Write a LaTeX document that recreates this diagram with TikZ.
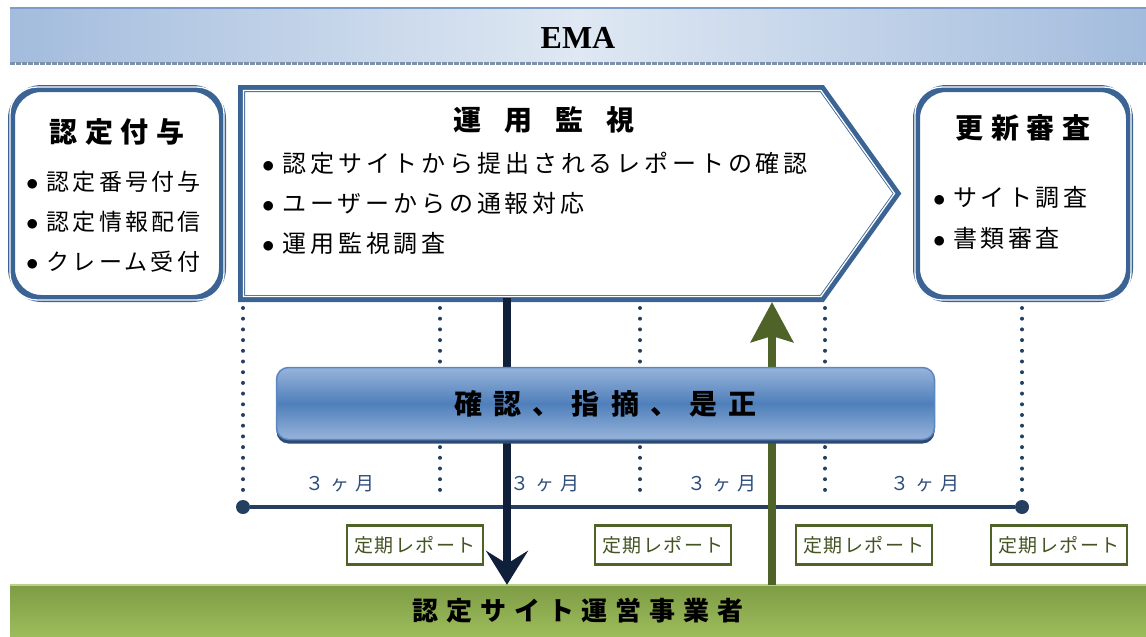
\documentclass[tikz,border=0pt]{standalone}
\usepackage{fontspec}
\setmainfont{Liberation Serif}
\newfontfamily\jp{Noto Sans CJK JP}
\usetikzlibrary{arrows.meta,positioning,shadows}

\definecolor{frameblue}{HTML}{3B6494}
\definecolor{navy}{HTML}{243F60}
\definecolor{arrownavy}{HTML}{10203A}
\definecolor{olive}{HTML}{4F6228}
\definecolor{emaside}{HTML}{A3BCDD}
\definecolor{emamid}{HTML}{DFE8F3}
\definecolor{emaline}{HTML}{7E9CC8}
\definecolor{btnlight}{HTML}{97B4DA}
\definecolor{btnmid}{HTML}{4F7FBB}
\definecolor{btnedge}{HTML}{5B86C0}
\definecolor{btnshadow}{HTML}{2C4A74}
\definecolor{greentop}{HTML}{7E9C45}
\definecolor{greenbot}{HTML}{9DBD5C}
\definecolor{monthblue}{HTML}{2E4D7B}

\newcommand\itm{$\bullet$\hspace{8pt}}

\begin{document}
\begin{tikzpicture}[x=1pt, y=1pt,
    frame/.style={draw=frameblue, line width=7pt, fill=white, rounded corners=30pt, line join=miter},
    innerline/.style={draw=white, line width=1.3pt},
    title/.style={font=\jp\bfseries\fontsize{28}{32}\selectfont\addfontfeature{LetterSpace=28}},
    items/.style={font=\jp\fontsize{23}{40}\selectfont\addfontfeature{LetterSpace=14}, align=left, anchor=west, inner sep=0pt},
    dots/.style={navy, line width=4pt, line cap=round, dash pattern=on 0pt off 10.7pt},
    dot/.style={circle, fill=navy, minimum size=14pt, inner sep=0pt},
    month/.style={font=\jp\fontsize{19}{22}\selectfont\addfontfeature{LetterSpace=30}, text=monthblue},
    report/.style={draw=olive, line width=2.5pt, fill=white, text=olive!85!black, inner sep=0pt,
        minimum width=136pt, minimum height=39pt, font=\jp\fontsize{19}{22}\selectfont\addfontfeature{LetterSpace=8}}
]
\useasboundingbox (0,0) rectangle (1146,-637);

% EMA banner
\shade[left color=emaside, right color=emaside, middle color=emamid] (10,-8) rectangle (1146,-62);
\draw[emaline, line width=1.5pt] (10,-8) -- (1146,-8);
\draw[emaline!60!gray, line width=2.5pt, dash pattern=on 5pt off 1pt] (10,-63.5) -- (1146,-63.5);
\node[font=\bfseries\fontsize{32}{36}\selectfont] (ema) at (578,-38) {EMA};

% left box
\node[frame, minimum width=211pt, minimum height=210pt] (grant) at (117,-193.5) {};
\draw[innerline, rounded corners=27pt] ([shift={(2pt,-2pt)}]grant.north west) rectangle ([shift={(-2pt,2pt)}]grant.south east);
\node[title] (granttitle) at (117,-132) {認定付与};
\node[items] (grantitems) at (26,-222) {\itm 認定番号付与\\ \itm 認定情報配信\\ \itm クレーム受付};

% middle arrow box
\draw[frame, rounded corners=0pt] (241.5,-88.5) coordinate (mon) -- (822,-88.5) -- (897,-193.5) -- (822,-298.5) -- (241.5,-298.5) -- cycle;
\draw[innerline] (243.5,-90.5) -- (821,-90.5) -- (894.5,-193.5) -- (821,-296.5) -- (243.5,-296.5) -- cycle;
\node[font=\jp\bfseries\fontsize{28}{32}\selectfont\addfontfeature{LetterSpace=60}] (montitle) at (544,-120) {運 用 監 視};
\node[items, font=\jp\fontsize{24}{40}\selectfont\addfontfeature{LetterSpace=16}] (monitems) at (262,-203) {\itm 認定サイトから提出されるレポートの確認\\ \itm ユーザーからの通報対応\\ \itm 運用監視調査};

% right box
\node[frame, minimum width=213pt, minimum height=210pt] (renew) at (1023,-193.5) {};
\draw[innerline, rounded corners=27pt] ([shift={(2pt,-2pt)}]renew.north west) rectangle ([shift={(-2pt,2pt)}]renew.south east);
\node[title] (renewtitle) at (1023,-128) {更新審査};
\node[items, font=\jp\fontsize{24}{41}\selectfont\addfontfeature{LetterSpace=14}] (renewitems) at (933,-217.5) {\itm サイト調査\\ \itm 書類審査};

% bottom bar
\node[top color=greentop, bottom color=greenbot, minimum width=1136pt, minimum height=52pt, inner sep=0pt,
    font=\jp\bfseries\fontsize{26}{30}\selectfont\addfontfeature{LetterSpace=30}] (site) at (578,-611) {認定サイト運営事業者};
\draw[greenbot!70!white, line width=1.5pt] (site.north west) -- (site.north east);

% time line
\node[dot] (t0) at (243,-507) {};
\node[dot] (t4) at (1022,-507) {};
\draw[navy, line width=3.5pt] (t0) -- (t4);
\draw[dots] (243,-308) -- (t0);
\draw[dots] (1022,-308) -- (t4);
\foreach \x in {440,640,825}
    \draw[dots] (\x,-308) -- (\x,-500);

% arrows
\coordinate (down) at (507,-298);
\coordinate (up) at (772,-302);
\draw[arrownavy, line width=8pt, -{Stealth[length=34pt, width=42pt, inset=13pt]}] (down) -- (down |- site.north);
\draw[olive, line width=8pt, -{Stealth[length=40pt, width=42pt, inset=6pt]}] (up |- site.north) -- (up);

% button
\node[draw=btnedge, line width=1.5pt, rounded corners=12pt, top color=btnlight, bottom color=btnlight, middle color=btnmid,
    drop shadow={shadow xshift=0pt, shadow yshift=-4pt, fill=btnshadow, opacity=1},
    minimum width=658pt, minimum height=72pt,
    font=\jp\bfseries\fontsize{28}{32}\selectfont\addfontfeature{LetterSpace=40}] (check) at (605.5,-403.5) {確認、指摘、是正};

% labels
\foreach \x/\n in {340/m1,545/m2,722/m3,925/m4}
    \node[month] (\n) at (\x,-484) {３ヶ月};
\foreach \x/\n in {415/r1,663/r2,864/r3,1059/r4}
    \node[report] (\n) at (\x,-545) {定期レポート};
\end{tikzpicture}
\end{document}
